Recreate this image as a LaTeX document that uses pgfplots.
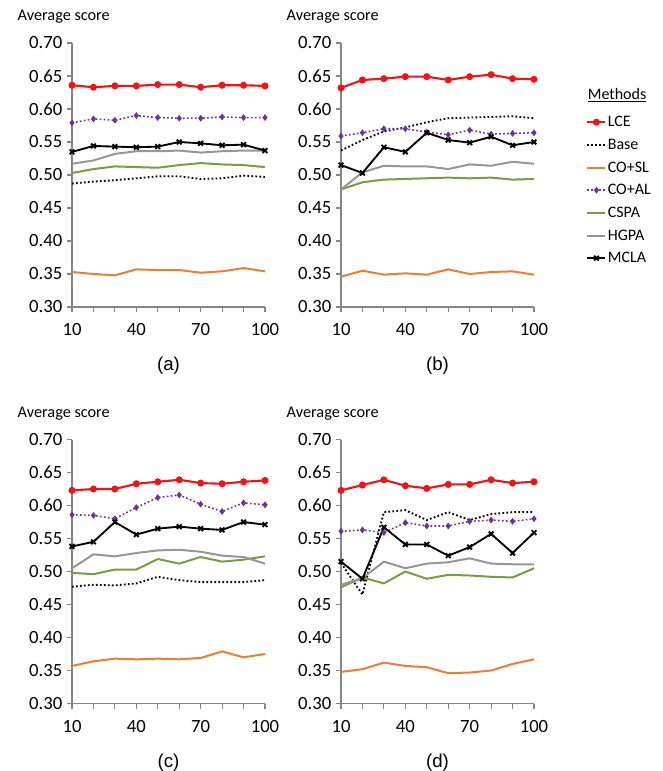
\documentclass[border=0pt]{standalone}
\usepackage{fontspec}
\setmainfont{Carlito}
\newfontfamily\arialfont{Liberation Sans}
\usepackage{pgfplots}
\usepackage{pgfplotstable}
\pgfplotsset{compat=1.18}

\definecolor{cLCE}{RGB}{240,20,20}
\definecolor{cSL}{RGB}{237,125,49}
\definecolor{cAL}{RGB}{112,48,160}
\definecolor{cCSPA}{RGB}{118,158,60}
\definecolor{cHGPA}{RGB}{150,150,150}
\definecolor{cAx}{RGB}{134,134,134}

\pgfplotstableread{
x LCE Base COSL COAL CSPA HGPA MCLA
10 0.636 0.487 0.353 0.579 0.503 0.517 0.535
20 0.633 0.490 0.350 0.585 0.509 0.522 0.544
30 0.635 0.492 0.348 0.583 0.513 0.532 0.543
40 0.635 0.495 0.357 0.590 0.512 0.536 0.542
50 0.637 0.498 0.356 0.587 0.511 0.536 0.543
60 0.637 0.498 0.356 0.586 0.515 0.537 0.550
70 0.633 0.494 0.352 0.586 0.518 0.534 0.548
80 0.636 0.495 0.354 0.588 0.516 0.536 0.545
90 0.636 0.499 0.359 0.587 0.515 0.537 0.546
100 0.635 0.497 0.354 0.587 0.512 0.537 0.537
}\tabA
\pgfplotstableread{
x LCE Base COSL COAL CSPA HGPA MCLA
10 0.632 0.537 0.346 0.559 0.478 0.478 0.515
20 0.644 0.553 0.355 0.564 0.489 0.504 0.503
30 0.646 0.566 0.349 0.570 0.493 0.514 0.542
40 0.649 0.572 0.351 0.570 0.494 0.513 0.535
50 0.649 0.580 0.349 0.565 0.495 0.513 0.564
60 0.644 0.586 0.357 0.561 0.496 0.509 0.553
70 0.649 0.587 0.350 0.568 0.495 0.516 0.549
80 0.652 0.588 0.353 0.562 0.496 0.514 0.558
90 0.646 0.589 0.354 0.563 0.493 0.520 0.545
100 0.645 0.586 0.349 0.564 0.494 0.517 0.550
}\tabB
\pgfplotstableread{
x LCE Base COSL COAL CSPA HGPA MCLA
10 0.623 0.477 0.357 0.586 0.498 0.505 0.538
20 0.625 0.480 0.364 0.585 0.496 0.526 0.545
30 0.625 0.479 0.368 0.580 0.503 0.523 0.575
40 0.633 0.482 0.367 0.597 0.503 0.528 0.556
50 0.636 0.492 0.368 0.612 0.519 0.532 0.565
60 0.639 0.487 0.367 0.616 0.512 0.533 0.568
70 0.634 0.484 0.369 0.602 0.522 0.530 0.565
80 0.633 0.484 0.379 0.591 0.515 0.524 0.563
90 0.636 0.484 0.370 0.604 0.518 0.522 0.575
100 0.638 0.487 0.375 0.601 0.523 0.512 0.571
}\tabC
\pgfplotstableread{
x LCE Base COSL COAL CSPA HGPA MCLA
10 0.623 0.513 0.348 0.561 0.476 0.480 0.515
20 0.631 0.465 0.352 0.563 0.491 0.490 0.489
30 0.639 0.590 0.362 0.559 0.482 0.515 0.567
40 0.630 0.593 0.357 0.574 0.500 0.505 0.541
50 0.626 0.578 0.355 0.569 0.489 0.512 0.541
60 0.632 0.590 0.346 0.569 0.495 0.514 0.524
70 0.632 0.578 0.347 0.576 0.494 0.520 0.537
80 0.639 0.587 0.350 0.578 0.492 0.512 0.557
90 0.634 0.590 0.360 0.576 0.491 0.511 0.528
100 0.636 0.590 0.367 0.580 0.505 0.511 0.559
}\tabD

\pgfplotsset{
  panel/.style={
    scale only axis, width=144.75pt, height=198pt,
    xmin=10, xmax=100, ymin=0.30, ymax=0.70,
    axis x line=bottom, axis y line=left,
    axis line style={-, draw=cAx, line width=0.8pt},
    tick style={draw=cAx, line width=0.8pt},
    tick align=outside, major tick length=3.75pt,
    xtick={10,20,...,100},
    xticklabels={10,,,40,,,70,,,100},
    ytick={0.30,0.35,...,0.70},
    yticklabel style={/pgf/number format/.cd, fixed, fixed zerofill, precision=2},
    /pgf/number format/assume math mode=true,
    ticklabel style={font=\fontsize{14}{16}\selectfont},
    xticklabel style={yshift=-5pt},
    clip=false,
    title={Average score},
    title style={at={(axis description cs:0,1)}, anchor=west, xshift=-44.25pt, yshift=13.5pt, font=\fontsize{12.2}{14}\selectfont},
    xlabel style={at={(axis description cs:0.5,0)}, anchor=center, yshift=-44.25pt, font=\arialfont\fontsize{14}{16}\selectfont},
    legend image code/.code={\draw[mark repeat=2,mark phase=2,#1] plot coordinates {(0pt,0pt)(6.75pt,0pt)(13.5pt,0pt)};},
  },
  sLCE/.style={draw=cLCE, line width=1.6pt, mark=*, mark size=1.8pt, mark options={fill=cLCE, draw=cLCE, solid}},
  sBase/.style={draw=black, line width=1.4pt, dash pattern=on 1.3pt off 1.7pt},
  sSL/.style={draw=cSL, line width=1.5pt},
  sAL/.style={draw=cAL, line width=1.2pt, dash pattern=on 1.3pt off 1.7pt, mark=diamond*, mark size=1.6pt, mark options={fill=cAL, draw=cAL, solid}},
  sCSPA/.style={draw=cCSPA, line width=1.5pt},
  sHGPA/.style={draw=cHGPA, line width=1.5pt},
  sMCLA/.style={draw=black, line width=1.4pt, mark=x, mark size=2.5pt, mark options={line width=1.4pt, solid}},
}

\newcommand{\drawpanel}[1]{%
  \addplot[sLCE] table[x=x,y=LCE] {#1};
  \addplot[sBase] table[x=x,y=Base] {#1};
  \addplot[sSL] table[x=x,y=COSL] {#1};
  \addplot[sAL] table[x=x,y=COAL] {#1};
  \addplot[sCSPA] table[x=x,y=CSPA] {#1};
  \addplot[sHGPA] table[x=x,y=HGPA] {#1};
  \addplot[sMCLA] table[x=x,y=MCLA] {#1};
}

\begin{document}
\begin{tikzpicture}
\useasboundingbox (0,0) rectangle (497.25pt,578.25pt);

\begin{axis}[panel, at={(54pt,348pt)}, anchor=south west, xlabel={(a)}]
\drawpanel{\tabA}
\end{axis}

\begin{axis}[panel, at={(255.75pt,348pt)}, anchor=south west, xlabel={(b)},
  legend style={draw=none, fill=none, at={(axis description cs:1.27,0.744)}, anchor=north west,
    font=\fontsize{12}{14}\selectfont, inner sep=0pt, row sep=0pt,
    nodes={inner sep=1pt, text height=11pt, text depth=4pt}, cells={anchor=west}}]
\drawpanel{\tabB}
\legend{LCE,Base,CO+SL,CO+AL,CSPA,HGPA,MCLA}
\node[anchor=west, font=\fontsize{12}{14}\selectfont, inner sep=0pt] at (axis description cs:1.278,0.803) {\underline{Methods}};
\end{axis}

\begin{axis}[panel, at={(54pt,50.6pt)}, anchor=south west, xlabel={(c)}]
\drawpanel{\tabC}
\end{axis}

\begin{axis}[panel, at={(255.75pt,50.6pt)}, anchor=south west, xlabel={(d)}]
\drawpanel{\tabD}
\end{axis}
\end{tikzpicture}
\end{document}
